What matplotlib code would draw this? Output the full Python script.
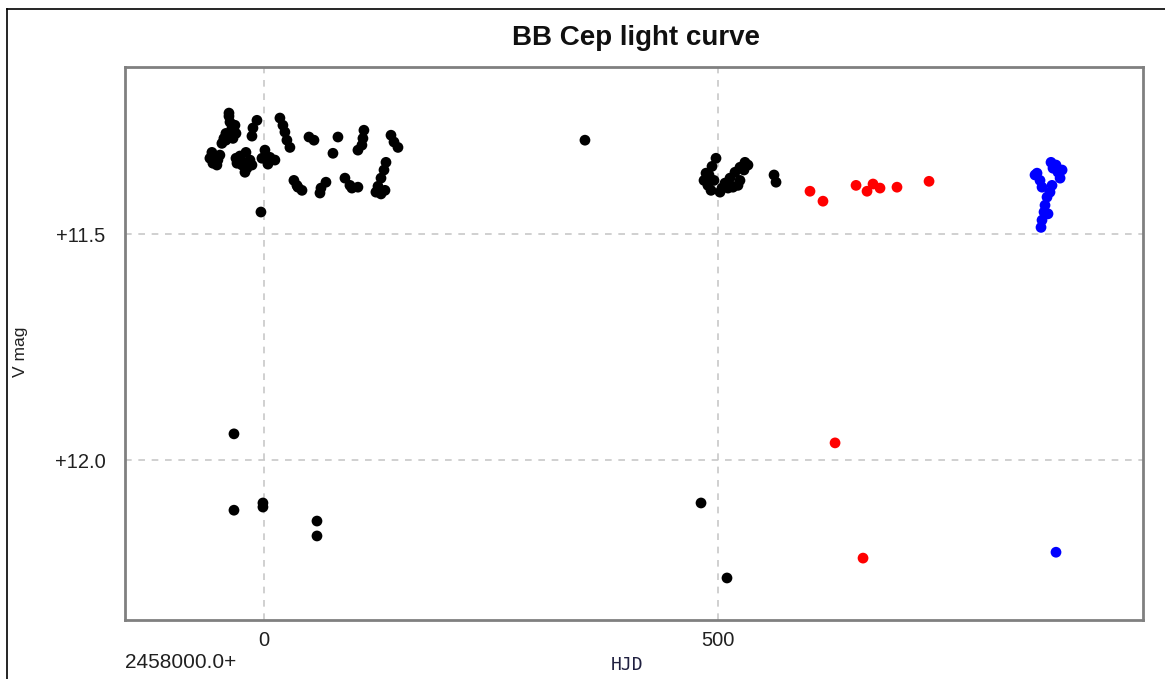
import matplotlib
matplotlib.use("Agg")
import matplotlib.pyplot as plt
from matplotlib.lines import Line2D

plt.rcParams['font.family'] = ['Liberation Sans', 'DejaVu Sans']

# HJD - 2458000.0 and V magnitude, one list pair per series
black_hjd = [-38.5, -38.5, -37.4, -35.2, -35.2, -34.1, -41.9, -46.3,
             -31.9, -30.8, -41.9, -44.1,
             -57.3, -55.1, -50.7, -56.2, -51.8, -59.5, -48.5,
             -26.4, -19.8, -23.1, -18.7, -24.2, -15.4, -29.7, -20.9, -30.8, -13.2,
             -7.7, -12.1, -13.2,
             1.1, -2.2, 6.6, 4.4, 12.1,
             17.6, 20.9, 23.1, 25.3, 28.6,
             33.0, 37.4, 41.9, 36.3,
             49.6, 55.1, 81.5, 76.0,
             110.1, 109.0, 107.9, 103.5,
             139.9, 143.2, 147.6,
             68.3, 62.8, 61.7,
             89.2, 94.7, 103.5, 96.9,
             134.4, 132.2, 128.9, 125.6, 123.3, 128.9, 133.3,
             -3.3, 353.5,
             497.8, 493.4, 486.8, 484.6, 488.9, 492.3, 495.6, 490.1,
             529.7, 524.2, 518.7, 513.2, 507.7, 516.5, 522.0, 504.4, 524.2,
             502.2, 511.0, 528.6, 533.0,
             561.7, 563.9,
             -33.0, -33.0, -1.1, -1.1, 58.4, 58.4, 481.3, 509.9]
black_mag = [11.239, 11.232, 11.252, 11.265, 11.279, 11.288, 11.292, 11.299,
             11.259, 11.277, 11.277, 11.288,
             11.319, 11.332, 11.336, 11.343, 11.347, 11.332, 11.325,
             11.327, 11.319, 11.341, 11.354, 11.347, 11.336, 11.343, 11.363, 11.332, 11.347,
             11.248, 11.265, 11.283,
             11.314, 11.332, 11.330, 11.345, 11.336,
             11.243, 11.259, 11.274, 11.292, 11.308,
             11.381, 11.396, 11.403, 11.392,
             11.285, 11.292, 11.285, 11.321,
             11.270, 11.288, 11.303, 11.314,
             11.281, 11.296, 11.308,
             11.385, 11.398, 11.409,
             11.376, 11.392, 11.396, 11.398,
             11.341, 11.358, 11.376, 11.394, 11.407, 11.411, 11.403,
             11.451, 11.292,
             11.332, 11.350, 11.365, 11.381, 11.392, 11.403, 11.381, 11.369,
             11.341, 11.352, 11.363, 11.376, 11.387, 11.396, 11.392, 11.398, 11.381,
             11.407, 11.398, 11.358, 11.347,
             11.369, 11.385,
             11.942, 12.111, 12.095, 12.104, 12.135, 12.168, 12.095, 12.261]

red_hjd = [601.3, 615.6, 652.0, 664.1, 670.7, 678.4, 697.1, 732.4, 628.9, 659.7]
red_mag = [11.405, 11.427, 11.392, 11.405, 11.389, 11.398, 11.396, 11.383, 11.962, 12.217]

blue_hjd = [851.3, 854.6, 856.8, 862.3, 860.1, 859.0, 856.8, 855.7,
            866.7, 868.9, 874.4, 876.7, 867.8, 865.6, 878.9, 849.1, 863.4, 872.2,
            872.2]
blue_mag = [11.365, 11.381, 11.396, 11.418, 11.436, 11.451, 11.469, 11.485,
            11.341, 11.354, 11.363, 11.376, 11.392, 11.407, 11.358, 11.369, 11.455, 11.347,
            12.204]

fig = plt.figure(figsize=(11.65, 6.79), dpi=100)
ax = fig.add_axes([125/1165, 1 - 620/679, (1143-125)/1165, (620-67)/679])

for xs, ys, c in [(black_hjd, black_mag, 'black'),
                  (red_hjd, red_mag, '#ff0000'),
                  (blue_hjd, blue_mag, '#0000ff')]:
    ax.scatter(xs, ys, s=60, color=c, edgecolors='none', zorder=3)

ax.set_xlim(-153, 968)
ax.set_ylim(12.354, 11.13)

ax.set_xticks([0, 500])
ax.set_xticklabels(['0', '500'])
ax.set_yticks([11.5, 12.0])
ax.set_yticklabels(['+11.5', '+12.0'])
ax.tick_params(length=0, labelsize=14.5, colors='#202020')
ax.tick_params(axis='x', pad=8)
ax.tick_params(axis='y', pad=14)

ax.grid(True, color='#c8c8c8', linestyle=(0, (4, 4)), linewidth=1.2)
ax.set_axisbelow(True)
for sp in ax.spines.values():
    sp.set_color('#808080')
    sp.set_linewidth(2)

fig.text(636/1165, 1 - 38/679, 'BB Cep light curve', ha='center', va='center',
         fontsize=20, fontweight='bold', color='#101010')
fig.text(21/1165, 1 - 352/679, 'V mag', ha='center', va='center',
         rotation=90, fontsize=12.5, color='#202020')
fig.text(125/1165, 1 - 663/679, '2458000.0+', ha='left', va='center',
         fontsize=15, color='#202020')
fig.text(627/1165, 1 - 665/679, 'HJD', ha='center', va='center',
         fontsize=13, family='DejaVu Sans Mono', color='#202040')

# outer frame
fig.add_artist(Line2D([7/1165, 7/1165], [0, 1 - 9/679], transform=fig.transFigure,
                      color='black', linewidth=1.2))
fig.add_artist(Line2D([7/1165, 1], [1 - 9/679, 1 - 9/679], transform=fig.transFigure,
                      color='black', linewidth=1.2))

fig.savefig('out.png', dpi=100)
